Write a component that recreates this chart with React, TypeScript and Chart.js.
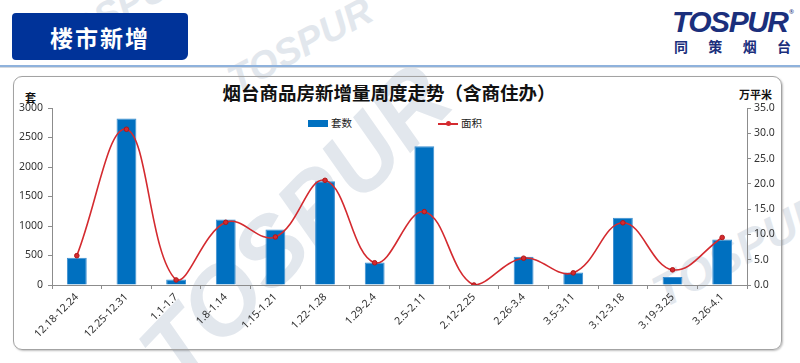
import React, { useEffect, useRef } from 'react';
import { Chart, registerables } from 'chart.js';

Chart.register(...registerables);

const categories = ['12.18-12.24', '12.25-12.31', '1.1-1.7', '1.8-1.14', '1.15-1.21', '1.22-1.28', '1.29-2.4', '2.5-2.11', '2.12-2.25', '2.26-3.4', '3.5-3.11', '3.12-3.18', '3.19-3.25', '3.26-4.1'];
const unitsSold = [460, 2820, 95, 1110, 940, 1760, 380, 2350, 0, 480, 210, 1140, 135, 770];
const areaSold = [5.8, 30.8, 1.0, 12.4, 9.5, 20.7, 4.4, 14.5, 0, 5.3, 2.4, 12.3, 3.0, 9.4];
const barLabel = '套数';
const lineLabel = '面积';
const leftUnit = '套';
const rightUnit = '万平米';
const chartTitle = '烟台商品房新增量周度走势（含商住办）';
const headerTitle = '楼市新增';

const FONT = '"Noto Sans", "Open Sans", "Noto Sans CJK SC", sans-serif';
const CJK = '"Noto Sans CJK SC", "Noto Sans", sans-serif';
const BAR_COLOR = '#0070c0';
const LINE_COLOR = '#d42a2f';
const WM = '#e2e7ed';

function Watermark(props: { x: number; y: number; size: number; rot: number }) {
  return (
    <div
      style={{
        position: 'absolute',
        left: props.x,
        top: props.y,
        transform: `translate(-50%, -50%) rotate(${props.rot}deg)`,
        fontFamily: '"Liberation Sans", Arial, sans-serif',
        fontWeight: 'bold',
        fontStyle: 'italic',
        fontSize: props.size,
        color: WM,
        whiteSpace: 'nowrap',
        lineHeight: 1,
      }}
    >
      TOSPUR
    </div>
  );
}

export default function App() {
  const ref = useRef<HTMLCanvasElement | null>(null);

  useEffect(() => {
    if (!ref.current) return;
    const chart = new Chart(ref.current, {
      type: 'bar',
      data: {
        labels: categories,
        datasets: [
          {
            type: 'line',
            label: lineLabel,
            data: areaSold,
            yAxisID: 'y1',
            borderColor: LINE_COLOR,
            backgroundColor: LINE_COLOR,
            borderWidth: 1.6,
            tension: 0.4,
            pointRadius: 2.3,
            pointBorderWidth: 1,
            pointBackgroundColor: LINE_COLOR,
            pointBorderColor: '#b01818',
            order: 1,
          } as any,
          {
            type: 'bar',
            label: barLabel,
            data: unitsSold,
            yAxisID: 'y',
            backgroundColor: BAR_COLOR,
            borderColor: '#3d8fd0',
            borderWidth: 1,
            barPercentage: 0.8,
            categoryPercentage: 0.5,
            order: 2,
          } as any,
        ],
      },
      options: {
        responsive: false,
        animation: false,
        layout: { padding: { top: 108, left: 0, right: 0, bottom: 0 } },
        plugins: {
          legend: { display: false },
          tooltip: { enabled: false },
          title: { display: false },
        },
        scales: {
          x: {
            type: 'category',
            offset: true,
            grid: {
              display: true,
              offset: true,
              drawOnChartArea: false,
              drawTicks: true,
              tickLength: 4,
              color: '#8c8c8c',
            },
            border: { display: true, color: '#8c8c8c', width: 1 },
            ticks: {
              autoSkip: false,
              minRotation: 45,
              maxRotation: 45,
              padding: 2,
              color: '#333',
              font: { family: FONT, size: 10.5 },
            },
            afterFit: (s: any) => {
              s.height = 78;
            },
          },
          y: {
            position: 'left',
            min: 0,
            max: 3000,
            grid: {
              display: true,
              drawOnChartArea: false,
              drawTicks: true,
              tickLength: 4,
              color: '#8c8c8c',
            },
            border: { display: true, color: '#8c8c8c', width: 1 },
            ticks: {
              stepSize: 500,
              padding: 5,
              color: '#333',
              font: { family: FONT, size: 10.5 },
              callback: (v: any) => String(v),
            },
            afterFit: (s: any) => {
              s.width = 52;
            },
          },
          y1: {
            position: 'right',
            min: 0,
            max: 35,
            grid: {
              display: true,
              drawOnChartArea: false,
              drawTicks: true,
              tickLength: 4,
              color: '#8c8c8c',
            },
            border: { display: true, color: '#8c8c8c', width: 1 },
            ticks: {
              stepSize: 5,
              padding: 3,
              color: '#333',
              font: { family: FONT, size: 10.5 },
              callback: (v: any) => Number(v).toFixed(1),
            },
            afterFit: (s: any) => {
              s.width = 53;
            },
          },
        },
      } as any,
    });
    return () => chart.destroy();
  }, []);

  return (
    <div
      style={{
        position: 'absolute',
        left: 0,
        top: 0,
        width: 800,
        height: 363,
        overflow: 'hidden',
        background: '#fff',
      }}
    >
      {/* watermarks */}
      <Watermark x={295} y={225} size={96} rot={-46} />
      <Watermark x={300} y={45} size={38} rot={-28} />
      <Watermark x={120} y={8} size={38} rot={-28} />
      <Watermark x={740} y={250} size={46} rot={-28} />

      {/* header */}
      <div
        style={{
          position: 'absolute',
          left: 12,
          top: 13,
          width: 176,
          height: 47,
          background: '#003399',
          borderRadius: '4px 4px 6px 4px',
          color: '#fff',
          fontFamily: CJK,
          fontWeight: 'bold',
          fontSize: 23,
          letterSpacing: 2,
          display: 'flex',
          alignItems: 'center',
          justifyContent: 'center',
        }}
      >
        {headerTitle}
      </div>
      <div style={{ position: 'absolute', left: 0, top: 65, width: 800, height: 2, background: '#8fb2dc' }} />
      <div style={{ position: 'absolute', left: 0, top: 67, width: 800, height: 1, background: '#d5d9de' }} />

      {/* logo */}
      <div
        style={{
          position: 'absolute',
          left: 672,
          top: 6,
          width: 122,
          fontFamily: '"Liberation Sans", Arial, sans-serif',
          fontWeight: 'bold',
          fontStyle: 'italic',
          fontSize: 30,
          letterSpacing: -1.5,
          color: '#1b2f7c',
          lineHeight: '32px',
          whiteSpace: 'nowrap',
        }}
      >
        TOSPUR
      </div>
      <div style={{ position: 'absolute', left: 789, top: 8, fontSize: 6, color: '#1b2f7c', fontFamily: FONT }}>®</div>
      <div
        style={{
          position: 'absolute',
          left: 674,
          top: 38,
          width: 117,
          display: 'flex',
          justifyContent: 'space-between',
          fontFamily: CJK,
          fontWeight: 'bold',
          fontSize: 14,
          color: '#1b2f7c',
          lineHeight: '16px',
        }}
      >
        <span>同</span>
        <span>策</span>
        <span>烟</span>
        <span>台</span>
      </div>

      {/* frame */}
      <div
        style={{
          position: 'absolute',
          left: 13,
          top: 76,
          width: 767,
          height: 272,
          border: '1.5px solid #a3a3a3',
          borderRadius: 9,
          boxShadow: '1px 1px 2px rgba(0,0,0,0.25)',
        }}
      />

      {/* title */}
      <div
        style={{
          position: 'absolute',
          left: 0,
          top: 79,
          width: 778,
          textAlign: 'center',
          fontFamily: CJK,
          fontWeight: 'bold',
          fontSize: 18.5,
          color: '#111',
          lineHeight: '26px',
          whiteSpace: 'nowrap',
        }}
      >
        {chartTitle}
      </div>

      {/* unit labels */}
      <div style={{ position: 'absolute', left: 25, top: 90, fontFamily: CJK, fontWeight: 'bold', fontSize: 11, color: '#111', lineHeight: '14px' }}>
        {leftUnit}
      </div>
      <div style={{ position: 'absolute', left: 739, top: 87, fontFamily: CJK, fontWeight: 'bold', fontSize: 11, color: '#111', lineHeight: '14px' }}>
        {rightUnit}
      </div>

      {/* legend */}
      <div style={{ position: 'absolute', left: 308, top: 120, width: 20, height: 7, background: BAR_COLOR }} />
      <div style={{ position: 'absolute', left: 331, top: 116, fontFamily: CJK, fontSize: 10.5, color: '#222', lineHeight: '14px' }}>
        {barLabel}
      </div>
      <div style={{ position: 'absolute', left: 438, top: 123, width: 20, height: 1.6, background: LINE_COLOR }} />
      <div
        style={{
          position: 'absolute',
          left: 445.5,
          top: 121,
          width: 5,
          height: 5,
          borderRadius: '50%',
          background: LINE_COLOR,
        }}
      />
      <div style={{ position: 'absolute', left: 461, top: 116, fontFamily: CJK, fontSize: 10.5, color: '#222', lineHeight: '14px' }}>
        {lineLabel}
      </div>

      <canvas
        ref={ref}
        width={800}
        height={363}
        style={{ position: 'absolute', left: 0, top: 0, width: 800, height: 363 }}
      />
    </div>
  );
}
